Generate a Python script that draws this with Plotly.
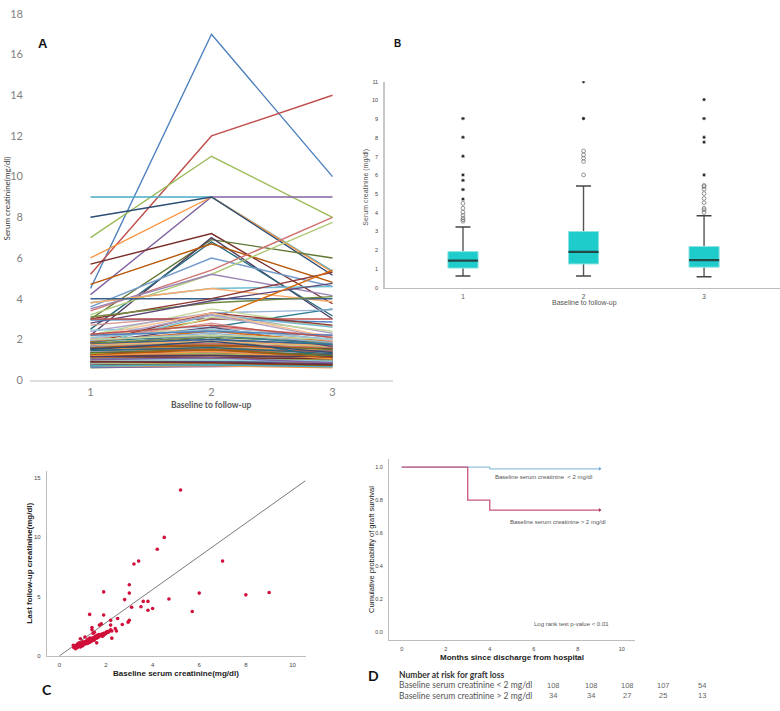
import plotly.graph_objects as go

# ---------------- Panel A : individual creatinine trajectories ----------------
visits = [1, 2, 3]
baseline = [4.5, 5.2, 7.0, 4.2, 9.0, 6.0, 8.0, 5.7, 3.0, 2.2, 2.5, 4.7, 3.6, 3.4, 3.2, 3.5,
            3.8, 3.8, 4.0, 3.0, 3.1, 2.8, 1.3, 1.9, 1.9, 2.7, 2.2, 2.4, 2.45, 2.25, 2.95, 3.0,
            0.6, 0.62, 0.65, 0.7, 0.7, 0.72, 0.75, 0.75, 0.78, 0.8, 0.8, 0.8, 0.82, 0.85, 0.85,
            0.88, 0.9, 0.9, 0.9, 0.92, 0.95, 0.95, 0.98, 1.0, 1.0, 1.0, 1.02, 1.05, 1.05, 1.08,
            1.1, 1.1, 1.1, 1.12, 1.15, 1.15, 1.18, 1.2, 1.2, 1.2, 1.22, 1.25, 1.25, 1.28, 1.3,
            1.3, 1.3, 1.32, 1.35, 1.35, 1.38, 1.4, 1.4, 1.4, 1.4, 1.42, 1.45, 1.45, 1.48, 1.5,
            1.5, 1.5, 1.52, 1.55, 1.55, 1.58, 1.6, 1.6, 1.6, 1.62, 1.65, 1.68, 1.7, 1.7, 1.72,
            1.75, 1.8, 1.8, 1.82, 1.85, 1.9, 1.9, 1.95, 2.0, 2.0, 2.05, 2.1, 2.15, 2.2, 2.25,
            1.3, 1.0, 0.7, 1.2, 1.5, 0.9, 1.35, 1.15, 1.45, 1.25]
visit2 = [17.0, 12.0, 11.0, 9.0, 9.0, 9.0, 9.0, 7.2, 6.9, 7.0, 6.8, 6.7, 6.0, 5.4, 5.2, 5.2,
          4.5, 4.5, 4.0, 4.0, 3.8, 3.9, 2.6, 3.0, 3.3, 3.2, 3.5, 3.3, 2.6, 2.5, 3.0, 3.0,
          0.7, 0.65, 0.8, 0.7, 0.9, 0.8, 0.75, 0.9, 1.0, 0.8, 0.95, 1.1, 0.85, 1.0, 1.2,
          0.9, 0.95, 1.1, 1.3, 0.9, 1.05, 1.2, 1.0, 1.1, 1.0, 1.4, 1.0, 1.2, 1.1, 1.3,
          1.1, 1.3, 1.5, 1.2, 1.4, 1.1, 1.3, 1.2, 1.5, 1.3, 1.6, 1.3, 1.4, 1.35, 1.4,
          1.5, 1.8, 1.4, 1.6, 1.3, 1.7, 1.5, 1.6, 2.6, 3.1, 1.4, 1.7, 2.2, 1.6, 1.5,
          1.8, 2.5, 1.7, 1.6, 2.0, 1.7, 1.8, 1.9, 2.1, 1.7, 2.0, 1.8, 1.9, 2.2, 3.2,
          1.9, 2.0, 3.3, 2.1, 2.6, 2.2, 2.4, 2.3, 2.8, 2.2, 3.2, 2.5, 3.3, 2.4, 2.7,
          1.3, 1.1, 0.75, 1.4, 1.9, 0.85, 1.5, 1.2, 1.6, 1.5]
last_fu = [10.0, 14.0, 8.0, 9.0, 5.35, 5.3, 5.15, 3.75, 6.0, 3.0, 3.15, 4.8, 4.6, 8.0, 7.75, 4.15,
           4.6, 3.85, 4.0, 5.3, 4.1, 4.75, 3.5, 5.4, 3.45, 2.65, 2.6, 2.3, 2.1, 1.5, 2.85, 3.0,
           0.9, 0.7, 0.75, 0.6, 0.8, 0.9, 0.7, 0.85, 1.0, 0.75, 0.9, 1.0, 0.8, 0.95, 1.1,
           0.85, 0.9, 1.0, 1.45, 0.8, 1.0, 1.1, 0.9, 1.0, 1.05, 1.2, 0.95, 1.1, 1.0, 1.15,
           1.0, 1.2, 1.6, 1.1, 1.25, 1.05, 1.2, 1.1, 1.3, 1.15, 1.4, 1.2, 1.3, 1.25, 1.2,
           1.35, 1.5, 1.3, 1.4, 1.25, 1.45, 1.3, 1.5, 2.2, 2.4, 1.35, 1.5, 1.9, 1.45, 1.4,
           1.55, 2.0, 1.6, 1.5, 1.65, 1.55, 1.5, 1.7, 1.1, 1.6, 1.75, 1.6, 1.65, 1.8, 2.6,
           1.7, 1.75, 2.7, 1.85, 1.65, 1.75, 1.9, 1.85, 1.9, 2.0, 2.05, 2.0, 2.1, 2.2, 2.1,
           1.15, 0.85, 0.65, 1.05, 1.35, 0.75, 1.2, 1.15, 1.3, 1.1]

# ---------------- Panel B : box plot summary ----------------
box_groups = [1, 2, 3]
box_low = [0.63, 0.63, 0.59]
box_q1 = [1.05, 1.27, 1.10]
box_median = [1.45, 1.92, 1.48]
box_q3 = [1.93, 3.00, 2.20]
box_high = [3.24, 5.43, 3.84]
outliers_g1 = [3.55, 3.63, 3.72, 3.87, 4.03, 4.24, 4.5]
outliers_g2 = [6.02, 6.74, 6.91, 7.09, 7.3]
outliers_g3 = [4.02, 4.16, 4.24, 4.54, 4.77, 5.03, 5.26, 5.4, 5.46]
extremes_g1 = [4.73, 5.24, 5.73, 6.02, 7.02, 8.03, 9.03]
extremes_g2 = [9.03, 11.0]
extremes_g3 = [6.02, 7.77, 8.03, 9.03, 10.04]

# ---------------- Panel C : regression line ----------------
fit_x = [0, 10.55]
fit_y = [0, 14.77]

# ---------------- Panel D : Kaplan-Meier ----------------
km_low_t = [0, 4, 9]
km_low_s = [1.0, 0.99, 0.99]
km_high_t = [0, 3, 4, 9]
km_high_s = [1.0, 0.80, 0.74, 0.74]
risk_low = ["108", "108", "108", "107", "54"]
risk_high = ["34", "34", "27", "25", "13"]

# ---------------- layout helpers ----------------
W, H = 780, 711


def px(x):
    return x / W


def py(y):
    return 1 - y / H


palette = ["#4F81BD", "#C0504D", "#9BBB59", "#8064A2", "#4BACC6", "#F79646",
           "#2C4D75", "#772C2A", "#5F7530", "#4D3B62", "#276A7C", "#B65708",
           "#729ACA", "#CD7371", "#AFC97A", "#9983B5", "#6FBDD1", "#F9AB6B",
           "#3A5F8B", "#8F3A37", "#71893F", "#5C4776", "#2F7F93", "#D86E0F",
           "#95B3D7", "#D99694", "#C3D69B", "#B2A2C7", "#93CDDD", "#FAC090"]

fig = go.Figure()

# Panel A lines
for i, (b, m, l) in enumerate(zip(baseline, visit2, last_fu)):
    fig.add_trace(go.Scatter(x=visits, y=[b, m, l], mode="lines",
                             line=dict(color=palette[i % len(palette)], width=1.4),
                             xaxis="x", yaxis="y", showlegend=False, hoverinfo="skip"))

# Panel B boxes
bw = 0.125
cw = 0.062
outs = [outliers_g1, outliers_g2, outliers_g3]
exts = [extremes_g1, extremes_g2, extremes_g3]
for k, g in enumerate(box_groups):
    fig.add_trace(go.Scatter(x=[g, g, None, g, g], y=[box_low[k], box_q1[k], None, box_q3[k], box_high[k]],
                             mode="lines", line=dict(color="#555555", width=1.4),
                             xaxis="x2", yaxis="y2", showlegend=False, hoverinfo="skip"))
    fig.add_trace(go.Scatter(x=[g - cw, g + cw, None, g - cw, g + cw],
                             y=[box_low[k], box_low[k], None, box_high[k], box_high[k]],
                             mode="lines", line=dict(color="#444444", width=1.4),
                             xaxis="x2", yaxis="y2", showlegend=False, hoverinfo="skip"))
    fig.add_trace(go.Scatter(x=[g - bw, g + bw, g + bw, g - bw, g - bw],
                             y=[box_q1[k], box_q1[k], box_q3[k], box_q3[k], box_q1[k]],
                             mode="lines", fill="toself", fillcolor="#1ECDCB",
                             line=dict(color="#8EE3E2", width=1),
                             xaxis="x2", yaxis="y2", showlegend=False, hoverinfo="skip"))
    fig.add_trace(go.Scatter(x=[g - bw, g + bw], y=[box_median[k], box_median[k]],
                             mode="lines", line=dict(color="#234848", width=2.2),
                             xaxis="x2", yaxis="y2", showlegend=False, hoverinfo="skip"))
    fig.add_trace(go.Scatter(x=[g] * len(outs[k]), y=outs[k], mode="markers",
                             marker=dict(symbol="circle-open", size=3.8, color="#777777",
                                         line=dict(width=0.8)),
                             xaxis="x2", yaxis="y2", showlegend=False, hoverinfo="skip"))
    fig.add_trace(go.Scatter(x=[g] * len(exts[k]), y=exts[k], mode="markers",
                             marker=dict(symbol="asterisk-open", size=2.8, color="#222222",
                                         line=dict(width=0.9)),
                             xaxis="x2", yaxis="y2", showlegend=False, hoverinfo="skip"))

# Panel C scatter
fig.add_trace(go.Scatter(x=fit_x, y=fit_y, mode="lines", line=dict(color="#7a7a7a", width=1),
                         xaxis="x3", yaxis="y3", showlegend=False, hoverinfo="skip"))
fig.add_trace(go.Scatter(x=baseline, y=last_fu, mode="markers",
                         marker=dict(color="#D0103A", size=3.6, line=dict(width=0)),
                         xaxis="x3", yaxis="y3", showlegend=False))

# Panel D KM curves
fig.add_trace(go.Scatter(x=km_low_t, y=km_low_s, mode="lines", line=dict(color="#92C3E0", width=1.2, shape="hv"),
                         xaxis="x4", yaxis="y4", showlegend=False))
fig.add_trace(go.Scatter(x=km_high_t, y=km_high_s, mode="lines", line=dict(color="#C8557F", width=1.3, shape="hv"),
                         xaxis="x4", yaxis="y4", showlegend=False))
fig.add_trace(go.Scatter(x=[km_low_t[-1]], y=[km_low_s[-1]], mode="markers",
                         marker=dict(symbol="triangle-right", size=3.5, color="#6FA8D0"),
                         xaxis="x4", yaxis="y4", showlegend=False))
fig.add_trace(go.Scatter(x=[km_high_t[-1]], y=[km_high_s[-1]], mode="markers",
                         marker=dict(symbol="triangle-right", size=3.5, color="#B0305F"),
                         xaxis="x4", yaxis="y4", showlegend=False))

SANS = "Liberation Sans, Arial, sans-serif"
CAL = "Lato, Liberation Sans, sans-serif"

common = dict(showgrid=False, zeroline=False, ticks="", ticklen=0)

layout = dict(
    width=W, height=H, margin=dict(l=0, r=0, t=0, b=0),
    paper_bgcolor="white", plot_bgcolor="rgba(0,0,0,0)", showlegend=False,
    xaxis=dict(domain=[px(30), px(393)], range=[0.5, 3.5], tickvals=[1, 2, 3], ticktext=["1", "2", "3"],
               showline=True, linecolor="#DEDEDE", linewidth=1.6, anchor="y",
               tickfont=dict(family=CAL, size=11, color="#7F7F7F"), ticklabelstandoff=1, **common),
    yaxis=dict(domain=[py(380), py(7)], range=[0, 18], dtick=2, showline=False, anchor="x",
               tickfont=dict(family=CAL, size=11, color="#7F7F7F"), ticklabelstandoff=6, **common),
    xaxis2=dict(domain=[px(385), px(780)], range=[0.353, 3.63], tickvals=[1, 2, 3], ticktext=["1", "2", "3"],
                showline=True, linecolor="#BDBDBD", linewidth=1, anchor="y2",
                tickfont=dict(family=SANS, size=6.5, color="#555555"), ticklabelstandoff=2, **common),
    yaxis2=dict(domain=[py(286), py(76)], range=[0, 11], dtick=1, showline=True, linecolor="#C6C6C6",
                linewidth=1.5, anchor="x2", tickfont=dict(family=SANS, size=5.5, color="#444444"),
                ticklabelstandoff=4, **common),
    xaxis3=dict(domain=[px(47), px(306)], range=[-0.53, 10.58], tick0=0, dtick=2, showline=True,
                linecolor="#BDBDBD", linewidth=1.2, anchor="y3",
                tickfont=dict(family=SANS, size=6, color="#444444"), ticklabelstandoff=3, **common),
    yaxis3=dict(domain=[py(661), py(473)], range=[0, 15.57], dtick=5, showline=True,
                linecolor="#BDBDBD", linewidth=1.2, anchor="x3",
                tickfont=dict(family=SANS, size=6, color="#444444"), ticklabelstandoff=4, **common),
    xaxis4=dict(domain=[px(389), px(635)], range=[-0.577, 10.6], tick0=0, dtick=2, showline=True,
                linecolor="#BDBDBD", linewidth=1.2, anchor="y4",
                tickfont=dict(family=SANS, size=5.5, color="#444444"), ticklabelstandoff=3, **common),
    yaxis4=dict(domain=[py(645), py(460)], range=[-0.049, 1.052], tickvals=[0, 0.2, 0.4, 0.6, 0.8, 1.0],
                tickformat=".1f", showline=True, linecolor="#BDBDBD", linewidth=1.2, anchor="x4",
                tickfont=dict(family=SANS, size=5.5, color="#444444"), ticklabelstandoff=4, **common),
)
fig.update_layout(**layout)


def ann(text, x, y, size, color="#333333", family=SANS, bold=False, angle=0, xanchor="center"):
    fig.add_annotation(text=("<b>%s</b>" % text) if bold else text, x=px(x), y=py(y),
                       xref="paper", yref="paper", showarrow=False, textangle=angle,
                       xanchor=xanchor, yanchor="middle",
                       font=dict(family=family, size=size, color=color))


# panel letters
ann("A", 43, 37, 13, "#111111", SANS, True)
ann("B", 397, 37, 10, "#111111", SANS, True)
ann("C", 47, 695, 14, "#111111", CAL, True)
ann("D", 373, 681, 14, "#111111", CAL, True)

# axis titles
ann("Serum creatinine(mg/dl)", 0, 195, 8, "#404040", CAL, False, -90, "left")
ann("Baseline to follow-up", 211, 405, 8.5, "#595959", CAL, True)
ann("Serum creatinine (mg/dl)", 366, 184, 7, "#555555", SANS, False, -90)
ann("Baseline to follow-up", 584, 302, 7, "#555555", SANS)
ann("Last follow-up creatinine(mg/dl)", 30, 567, 8, "#222222", SANS, True, -90)
ann("Baseline serum creatinine(mg/dl)", 176, 679, 8, "#222222", SANS, True)
ann("Cumulative probability of graft survival", 372, 553, 7.5, "#222222", SANS, False, -90)
ann("Months since discharge from hospital", 512, 663, 8, "#222222", SANS, True)

# KM labels
ann("Baseline serum creatinine  &lt; 2 mg/dl", 492.7, 478.7, 6, "#555555", SANS, False, 0, "left")
ann("Baseline serum creatinine &gt; 2 mg/dl", 507.7, 524.3, 6, "#555555", SANS, False, 0, "left")
ann("Log rank test p-value &lt; 0.01", 531.7, 629, 6, "#555555", SANS, False, 0, "left")

# number at risk table
ann("Number at risk for graft loss", 397, 680, 8.5, "#333333", CAL, True, 0, "left")
ann("Baseline serum creatinine &lt; 2 mg/dl", 397, 691, 8.5, "#555555", CAL, False, 0, "left")
ann("Baseline serum creatinine &gt; 2 mg/dl", 397, 701.5, 8.5, "#555555", CAL, False, 0, "left")
col_x = [553, 591, 627, 663, 702]
for cx, a, b in zip(col_x, risk_low, risk_high):
    ann(a, cx, 691, 7.5, "#666666", SANS)
    ann(b, cx, 701.5, 7.5, "#666666", SANS)

fig.write_html("out.html", config={"displayModeBar": False},
               post_script="document.body.style.margin='0px';document.body.style.overflow='hidden';")
